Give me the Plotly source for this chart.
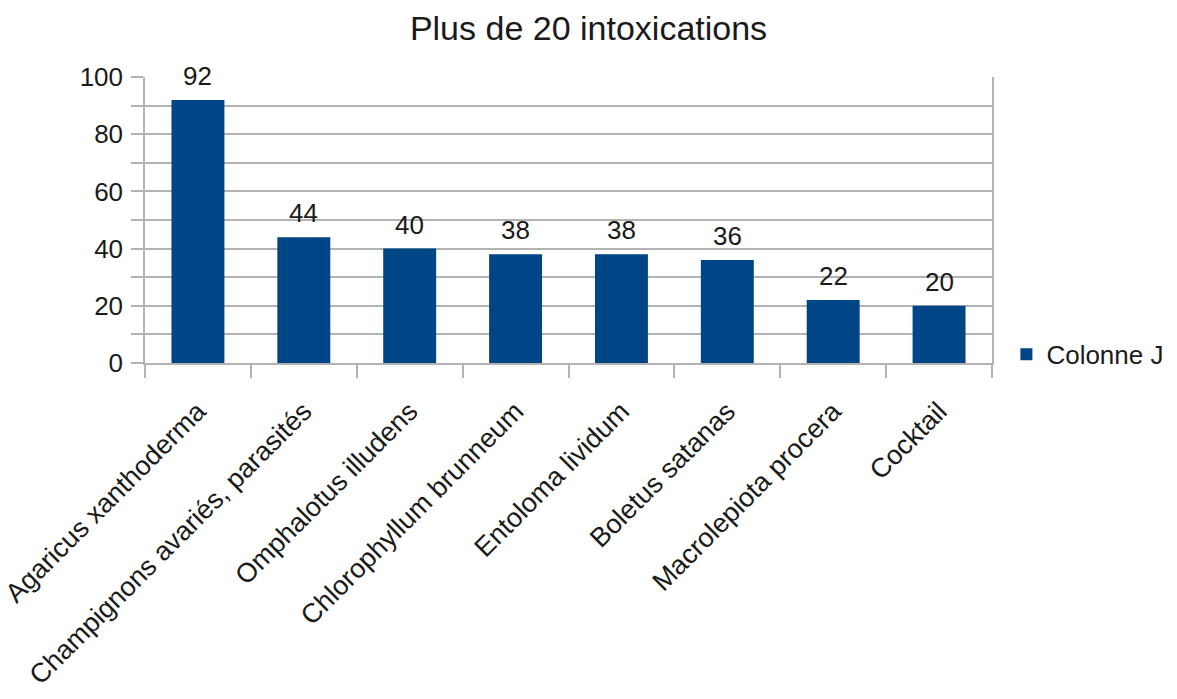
import plotly.graph_objects as go

categories = [
    "Agaricus xanthoderma",
    "Champignons avariés, parasités",
    "Omphalotus illudens",
    "Chlorophyllum brunneum",
    "Entoloma lividum",
    "Boletus satanas",
    "Macrolepiota procera",
    "Cocktail",
]
values = [92, 44, 40, 38, 38, 36, 22, 20]
series_name = "Colonne J"
title_text = "Plus de 20 intoxications"

FONT = "Liberation Sans, Arial, sans-serif"
GRID = "#b3b3b3"
BAR = "#004586"
TXT = "#1a1a1a"

fig = go.Figure()
fig.add_trace(go.Bar(
    x=categories,
    y=values,
    name=series_name,
    marker=dict(color=BAR, line=dict(width=0)),
    showlegend=True,
))

for c, v in zip(categories, values):
    fig.add_annotation(
        x=c, y=v, xref="x", yref="y",
        text=str(v), showarrow=False,
        yanchor="bottom", yshift=7,
        font=dict(family=FONT, size=26, color=TXT),
    )

fig.update_layout(
    width=1177,
    height=699,
    paper_bgcolor="white",
    plot_bgcolor="white",
    margin=dict(l=145, r=185, t=77, b=336, autoexpand=False),
    bargap=0.5,
    font=dict(family=FONT, size=26, color=TXT),
    title=dict(
        text=title_text,
        x=0.5, xref="container", xanchor="center",
        y=1 - 28 / 699, yref="container", yanchor="middle",
        font=dict(family=FONT, size=34, color=TXT),
        automargin=False,
    ),
    legend=dict(
        x=1.017, xanchor="left", y=0.03, yanchor="middle",
        font=dict(family=FONT, size=26, color=TXT),
        bgcolor="rgba(0,0,0,0)",
        itemwidth=30,
    ),
    xaxis=dict(
        type="category",
        automargin=False,
        tickangle=-45,
        tickson="boundaries",
        ticks="outside",
        ticklen=13,
        tickcolor=GRID,
        tickwidth=1.5,
        ticklabelstandoff=20,
        showgrid=False,
        showline=True,
        linecolor=GRID,
        linewidth=1.5,
        tickfont=dict(family=FONT, size=27, color=TXT),
    ),
    yaxis=dict(
        automargin=False,
        range=[0, 100],
        dtick=20,
        tick0=0,
        ticks="outside",
        ticklen=12,
        tickcolor=GRID,
        tickwidth=1.5,
        ticklabelstandoff=3,
        showgrid=True,
        gridcolor=GRID,
        gridwidth=1.5,
        showline=True,
        mirror=True,
        linecolor=GRID,
        linewidth=1.5,
        zeroline=False,
        tickfont=dict(family=FONT, size=26, color=TXT),
        minor=dict(dtick=10, tick0=0, showgrid=True, gridcolor=GRID, gridwidth=1.5,
                   ticks="outside", ticklen=12, tickcolor=GRID, tickwidth=1.5),
    ),
)

fig.write_html(
    "out.html",
    config={"displayModeBar": False},
    post_script="document.body.style.margin='0';document.body.style.padding='0';",
)
